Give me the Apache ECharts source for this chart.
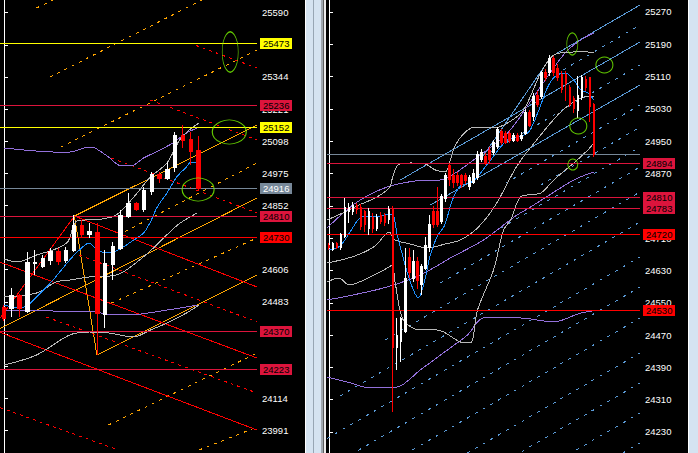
<!DOCTYPE html>
<html><head><meta charset="utf-8">
<script src="https://cdn.jsdelivr.net/npm/echarts@6/dist/echarts.min.js"></script>
<style>html,body{margin:0;padding:0;background:#000;overflow:hidden}#c{width:698px;height:453px}
#c svg path,#c svg rect,#c svg line,#c svg polyline,#c svg ellipse,#c svg circle{shape-rendering:crispEdges}</style>
</head><body><div id="c"></div>
<script>
// ---------- DATA ----------
// candles: [open, close, low, high]
const leftCandles = [
[24463,24421,24410,24470],[24459,24509,24425,24536],[24509,24459,24425,24512],[24444,24635,24440,24674],
[24628,24635,24586,24681],[24620,24647,24612,24662],[24643,24674,24624,24689],[24674,24639,24624,24689],
[24643,24681,24632,24693],[24681,24777,24674,24815],[24777,24739,24731,24796],[24739,24754,24727,24785],
[24750,24440,24280,24785],[24436,24628,24383,24681],[24624,24693,24567,24712],[24689,24815,24681,24835],
[24808,24858,24804,24900],[24861,24838,24831,24865],[24838,24911,24827,24923],[24907,24972,24892,24980],
[24972,24957,24938,24980],[24957,24988,24949,25018],[24999,25118,24980,25133],[25118,25099,25072,25160],
[25103,25060,25007,25133],[25064,24916,24911,25118]
];
const rightCandles = [
[24693,24686,24680,24698],[24683,24696,24678,24700],[24696,24686,24682,24700],[24686,24718,24681,24723],
[24713,24787,24710,24809],[24775,24785,24748,24797],[24775,24790,24768,24800],[24792,24780,24770,24797],
[24787,24738,24730,24795],[24775,24743,24725,24780],[24735,24775,24718,24785],[24762,24735,24722,24772],
[24735,24762,24728,24770],[24767,24750,24745,24775],[24767,24748,24740,24772],[24755,24780,24745,24790],
[24780,24438,24280,24790],[24438,24470,24384,24512],[24453,24512,24403,24515],[24478,24611,24475,24686],
[24663,24626,24611,24686],[24611,24651,24601,24680],[24653,24606,24585,24663],[24594,24639,24570,24646],
[24636,24691,24630,24713],[24686,24745,24676,24767],[24775,24745,24735,24790],[24775,24745,24737,24837],
[24750,24812,24745,24820],[24809,24866,24800,24872],[24891,24854,24840,24895],[24866,24849,24835,24880],
[24866,24847,24840,24875],[24864,24842,24835,24870],[24866,24852,24845,24872],[24837,24861,24830,24866],
[24849,24871,24845,24880],[24861,24916,24855,24925],[24904,24923,24898,24930],[24911,24896,24890,24920],
[24928,24904,24895,24935],[24921,24946,24915,24952],[24936,24978,24930,24985],[24973,24948,24940,24980],
[24970,24948,24942,24976],[24970,24953,24946,24975],[24953,24963,24948,24970],[24965,24953,24948,24970],
[24956,24965,24950,24972],[24970,25022,24965,25030],[25020,24990,24985,25027],[25010,25060,25000,25070],
[25064,25040,25035,25075],[25060,25119,25055,25125],[25121,25109,25100,25128],[25119,25156,25112,25164],
[25154,25121,25112,25160],[25131,25109,25100,25140],[25114,25077,25070,25125],[25114,25094,25050,25124],
[25084,25040,25035,25090],[25057,25032,25020,25062],[25027,25064,25007,25111],[25059,25109,25052,25115],
[25102,25082,25075,25112],[25107,25035,24998,25110],[25040,24916,24912,25045]
];
const leftSlots = 33, rightSlots = 78;

// tick positions, and the tick labels that are visible (the rest sit under price boxes)
const leftTicks  = [25590,25467,25344,25221,25098,24975,24852,24729,24606,24483,24360,24237,24114,23991];
const leftTickLabels  = [25590,25344,25221,25098,24975,24852,24606,24483,24360,24237,24114,23991];
const rightTicks = [25270,25190,25110,25030,24950,24870,24790,24710,24630,24550,24470,24390,24310,24230];
const rightTickLabels = [25270,25190,25110,25030,24950,24870,24710,24630,24550,24470,24390,24310,24230];

const leftLevels  = [25473,25236,25152,24916,24810,24730,24370,24223];
const rightLevels = [24916,24894,24810,24783,24720,24530];

// indicator lines: [bar index, price]
const leftBlue = [[0.06,24470.8],[1.31,24463.1],[2.56,24463.1],[4.19,24501.4],[6.31,24566.5],[8.44,24643.1],[9.69,24681.4],[10.94,24708.2],[11.69,24689.0],[12.56,24673.7],[13.81,24673.7],[16.69,24719.6],[17.94,24746.5],[18.81,24788.6],[19.69,24846.0],[20.94,24899.6],[22.19,24960.9],[23.44,24999.2],[24.06,25018.3],[24.94,25018.3]];
const leftPurpleUp = [[0.06,25071.9],[2.56,25064.3],[6.31,25056.6],[8.44,25056.6],[10.94,25075.7],[11.69,25071.9],[13.44,25037.4],[15.06,25003.0],[16.31,25003.0],[17.94,25033.6],[20.06,25064.3],[21.69,25091.1],[23.44,25129.3],[24.81,25148.5]];
const leftPurpleLow = [[0.06,24447.8],[4.19,24451.6],[8.44,24444.0],[11.69,24444.0],[13.81,24432.5],[17.56,24436.3],[20.94,24451.6],[23.44,24463.1],[24.81,24470.8]];
const leftGrayUp = [[0.06,24646.9],[1.69,24635.4],[4.19,24662.2],[6.31,24681.4],[8.19,24712.0],[9.19,24788.6],[10.44,24796.2],[12.56,24800.1],[14.44,24815.4],[16.69,24884.3],[18.81,24960.9],[20.94,25014.5],[22.56,25102.5],[23.81,25140.9],[25.06,25167.6]];
const leftGrayMid = [[0.06,24501.4],[4.19,24516.7],[6.69,24558.8],[8.44,24566.5],[10.94,24578.0],[14.44,24585.6],[18.19,24662.2],[22.31,24777.1],[24.81,24823.0]];
const leftGrayLow = [[0.06,24241.0],[4.19,24279.3],[8.44,24355.9],[10.94,24367.4],[13.44,24363.6],[16.69,24348.3],[18.81,24375.0],[20.94,24401.9],[23.44,24440.2],[25.06,24470.8]];

const rightBlue = [[0,24680.7],[2.75,24690.6],[5.25,24725.3],[7.25,24755.0],[9,24764.9],[11.5,24762.4],[14,24767.4],[15.75,24769.8],[17,24717.8],[18.5,24660.9],[20.25,24601.4],[22.25,24561.9],[23.75,24601.4],[25.25,24668.3],[27,24715.4],[28.75,24740.1],[30.75,24804.5],[32.75,24839.2],[36,24851.5],[40.25,24903.5],[44.5,24953.1],[49.5,24970.4],[52,25019.9],[54.5,25084.3],[56.5,25111.5],[59,25118.9],[61,25101.6],[62.75,25076.9],[64.5,25069.4],[66,25052.1]];
const rightGrayUp = [[-0.5,24755.0],[4,24774.8],[7.5,24792.1],[11.5,24809.5],[15,24834.2],[16,24866.4],[17.25,24891.2],[20.25,24896.1],[24,24893.6],[26.5,24878.8],[29,24873.8],[30.25,24903.5],[31.5,24940.7],[34,24972.9],[36.5,24985.2],[41,24982.8],[44.5,24995.2],[48.5,25027.3],[52.75,25118.9],[56,25163.5],[61,25171.0],[64.5,25171.0],[66,25168.5]];
const rightGrayMid = [[-0.5,24648.5],[4,24658.4],[7.75,24670.8],[11.5,24690.6],[15,24725.3],[16.5,24705.5],[20.25,24695.6],[24.5,24685.6],[29,24695.6],[32.75,24705.5],[37,24735.2],[41.5,24792.1],[47,24891.2],[52.75,24965.4],[57.75,25022.4],[62.75,25057.1],[66,25062.0]];
const rightGrayLow = [[-0.5,24601.4],[2.5,24611.4],[5,24594.0],[10.25,24613.8],[15,24638.6],[15.75,24643.6],[16.5,24599.0],[18.5,24507.4],[22.75,24482.6],[27,24482.6],[32.75,24452.9],[35.25,24450.4],[37,24532.1],[41,24631.2],[43.5,24730.2],[45.25,24755.0],[47.75,24811.9],[52.75,24821.8],[56,24854.0],[61,24896.1],[64.5,24928.3],[66,24945.6]];
const rightPurpleUp = [[-0.5,24735.2],[7,24799.5],[14.5,24836.7],[21.5,24851.5],[27.75,24854.0],[36,24903.5],[44.5,24970.4],[51,25059.5],[55.25,25121.4],[59.5,25175.9],[63.5,25205.6],[66,25218.0]];
const rightPurpleLow = [[-0.5,24556.9],[6,24569.3],[14.5,24589.1],[22.75,24618.8],[30.25,24660.9],[38.5,24705.5],[46.5,24764.9],[50.25,24787.2],[61,24854.0],[66,24873.8]];
const rightPurpleLowest = [[-0.5,24366.2],[4.5,24353.9],[10.25,24339.0],[17,24341.5],[22.75,24383.6],[29.5,24433.1],[34.5,24470.2],[38.5,24512.3],[43.5,24512.3],[47.75,24512.3],[56,24502.4],[62.75,24524.7],[67.75,24532.1]];

// drawn trend lines: [[bar, price],[bar, price]]
const leftOrangeSolid = [
 [[9.06,24811.5],[32.5,25160.0]],[[-0.5,24380],[32.5,24880.5]],[[11.94,24279.3],[32.5,24585.6]],[[9.06,24811.5],[11.94,24279.3]]
];
const leftOrangeDashed = [
 [[4.19,25608],[6.31,25638.6]],[[5.94,25343.8],[25.44,25638.6]],[[7.31,25075.7],[32.5,25447.2]],[[14.69,24738.8],[32.5,25014.5]],
 [[13.81,24478.4],[32.5,24727.3]],[[13.44,24011.3],[32.5,24287.0]],[[25.06,23915.5],[32.5,24003.6]]
];
const leftRedSolid = [
 [[-0.5,24635],[32.5,24267.8]],[[-0.5,24366],[32.5,23992.1]],[[9.06,24811.5],[32.5,24539.7]],[[-0.5,24420],[9.06,24811.5]]
];
const leftRedDashed = [
 [[23.81,25474.0],[32.5,25378.2]],[[18.81,25255.7],[32.5,25102.5]],[[13.81,25033.6],[32.5,24823.0]],
 [[9.69,24662.2],[32.5,24405.7]],[[5.44,24424.8],[32.5,24133.8]],[[-0.5,24078],[14.69,23915.5]]
];
const rightBlueSolid = [
 [[37.75,24903.5],[55.25,25158.6]],[[55.25,25158.6],[77.5,25287.3]],[[17.75,24854.0],[77.5,25195.7]],[[25.25,24792.1],[77.5,25089.2]]
];
const rightBlueDashed = [
 [[56.5,25115.7],[77.5,25237.8]],[[40.25,24923.4],[77.5,25138.8]],[[44,24845.9],[77.5,25039.7]],[[52.75,24841.6],[77.5,24985.3]],
 [[42.75,24734.7],[77.5,24935.7]],[[27.75,24599.0],[77.5,24886.2]],[[14,24458.1],[77.5,24824.3]],[[2.75,24319.2],[77.5,24750.0]],
 [[-0.5,24213.9],[77.5,24663.4]],[[-0.5,24139.7],[77.5,24589.0]],[[-0.5,24062.9],[77.5,24512.3]],[[-0.5,23976.3],[77.5,24425.7]],
 [[-0.5,23902],[77.5,24351.4]],[[-0.5,23828],[77.5,24277.1]],[[-0.5,23753],[77.5,24202.8]]
];
const leftEllipses = [[29.06,25439.5],[28.94,25133.2],[24.94,24913.0]];
const rightEllipses = [[60.63,25190.8],[68.63,25138.8],[62.13,24987.7],[60.75,24892.4]];

// ---------- STYLE ----------
const FONT = 'Liberation Sans';
const CRIMSON = '#dc143c';
const leftLevelStyle = [
 {line:'#ffff00',bg:'#ffff00',text:'#000'},{line:CRIMSON,bg:CRIMSON,text:'#000'},{line:'#ffff00',bg:'#ffff00',text:'#000'},
 {line:'#778899',bg:'#778899',text:'#fff'},{line:CRIMSON,bg:CRIMSON,text:'#000'},{line:'#ff0000',bg:'#ff0000',text:'#000'},
 {line:CRIMSON,bg:CRIMSON,text:'#000'},{line:CRIMSON,bg:CRIMSON,text:'#000'}
];
const rightLevelStyle = [
 {line:'#778899',bg:null,text:'#fff',hide:true},{line:CRIMSON,bg:CRIMSON,text:'#000'},{line:CRIMSON,bg:CRIMSON,text:'#000'},
 {line:CRIMSON,bg:CRIMSON,text:'#000'},{line:'#ff0000',bg:'#ff0000',text:'#000'},{line:'#ff0000',bg:'#ff0000',text:'#000'}
];
const leftEllipseSize = [[16,40],[34,24],[32,23]];
const rightEllipseSize = [[11,22],[17,16],[17,16],[10,11]];

function yAx(grid, min, max, ticks, labels){
  return {type:'value', gridIndex:grid, position:'right', min:min, max:max,
    splitLine:{show:false},
    axisLine:{show:true, lineStyle:{color:'#ffffff', width:1}},
    axisTick:{show:true, length:4, lineStyle:{color:'#ffffff'}, customValues:ticks},
    axisLabel:{color:'#ffffff', fontSize:9.5, fontFamily:FONT, margin:5, customValues:labels,
      formatter:function(v){return String(Math.round(v));}}};
}
function levelSeries(xi, yi, vals, st, xmax){
  return vals.map((v,i)=>({type:'line', xAxisIndex:xi, yAxisIndex:yi, silent:true, z:4, clip:false,
    symbol:'none', data:[[-0.5,v],[xmax,v]],
    lineStyle:{color:st[i].line, width:1, type:'solid'},
    endLabel:{show:!st[i].hide, formatter:String(v), distance:3,
      backgroundColor:st[i].bg, color:st[i].text, padding:[1,3,1,3],
      fontSize:9.5, fontFamily:FONT, lineHeight:9}}));
}
function candle(xi, yi, data, bw){
  return {type:'candlestick', xAxisIndex:xi, yAxisIndex:yi, data:data, barWidth:bw, clip:false, z:5, silent:true,
    itemStyle:{color:'#ffffff', color0:'#ff0000', borderColor:'#ffffff', borderColor0:'#ff0000', borderWidth:1}};
}
function curve(xi, yi, data, color){
  return {type:'line', xAxisIndex:xi, yAxisIndex:yi, data:data, symbol:'none', smooth:0.3, silent:true, z:3,
    lineStyle:{color:color, width:1}};
}
function segs(xi, yi, list, color, dash){
  return list.map(s=>({type:'line', xAxisIndex:xi, yAxisIndex:yi, data:s, symbol:'none', silent:true, z:2,
    lineStyle:{color:color, width:1, type:dash||'solid'}}));
}
function ellipses(xi, yi, pts, sizes){
  return {type:'scatter', xAxisIndex:xi, yAxisIndex:yi, silent:true, z:6, symbol:'circle',
    data: pts.map((p,i)=>({value:p, symbolSize:sizes[i]})),
    itemStyle:{color:'rgba(0,0,0,0)', borderColor:'#7cfc00', borderWidth:1}};
}

const BLUE='#1e90ff', GRAY='#b8b8b8', PURPLE='#9370db', ORANGE='#ffa500', RED='#ff0000', STEEL='#5a9ad6';

const series = [].concat(
  segs(1,0,leftOrangeSolid,ORANGE), segs(1,0,leftOrangeDashed,ORANGE,[3,5]),
  segs(1,0,leftRedSolid,RED), segs(1,0,leftRedDashed,RED,[3,4]),
  segs(3,1,rightBlueSolid,STEEL), segs(3,1,rightBlueDashed,STEEL,[3,6]),
  [
    curve(1,0,leftPurpleUp,PURPLE), curve(1,0,leftPurpleLow,PURPLE),
    curve(1,0,leftGrayUp,GRAY), curve(1,0,leftGrayMid,GRAY), curve(1,0,leftGrayLow,GRAY),
    curve(1,0,leftBlue,BLUE),
    curve(3,1,rightPurpleUp,PURPLE), curve(3,1,rightPurpleLow,PURPLE), curve(3,1,rightPurpleLowest,PURPLE),
    curve(3,1,rightGrayUp,GRAY), curve(3,1,rightGrayMid,GRAY), curve(3,1,rightGrayLow,GRAY),
    curve(3,1,rightBlue,BLUE)
  ],
  levelSeries(1,0,leftLevels,leftLevelStyle,leftSlots-0.5),
  levelSeries(3,1,rightLevels,rightLevelStyle,rightSlots-0.5),
  [
    candle(0,0,leftCandles,4),
    candle(2,1,rightCandles,2),
    ellipses(1,0,leftEllipses,leftEllipseSize),
    ellipses(3,1,rightEllipses,rightEllipseSize)
  ]
);

const frames = [[305,1,'#ffffff'],[306,7,'#d5e3f1'],[313,1,'#98a6b4'],[314,7,'#d5e3f1'],[321,2,'#a0a8b0'],[323,1,'#606060'],[324,2,'#eeeeee'],
                [688,1,'#ffffff'],[689,9,'#d5e3f1']];

const chart = echarts.init(document.getElementById('c'), null, {renderer:'svg'});
chart.setOption({
  backgroundColor:'#000000',
  animation:false,
  textStyle:{fontFamily:FONT},
  grid:[{left:-4, top:0, width:261, height:453}, {left:327, top:0, width:313, height:453}],
  xAxis:[
    {type:'category', gridIndex:0, data:Array.from({length:leftSlots},(_,i)=>String(i)), show:false},
    {type:'value', gridIndex:0, min:-0.5, max:leftSlots-0.5, show:false},
    {type:'category', gridIndex:1, data:Array.from({length:rightSlots},(_,i)=>String(i)), show:false},
    {type:'value', gridIndex:1, min:-0.5, max:rightSlots-0.5, show:false}
  ],
  yAxis:[yAx(0,23904.1,25638.6,leftTicks,leftTickLabels), yAx(1,24178.0,25299.7,rightTicks,rightTickLabels)],
  series:series,
  graphic: frames.map(f=>({type:'rect', silent:true, z:100, shape:{x:f[0], y:0, width:f[1], height:453}, style:{fill:f[2]}}))
});
</script></body></html>
